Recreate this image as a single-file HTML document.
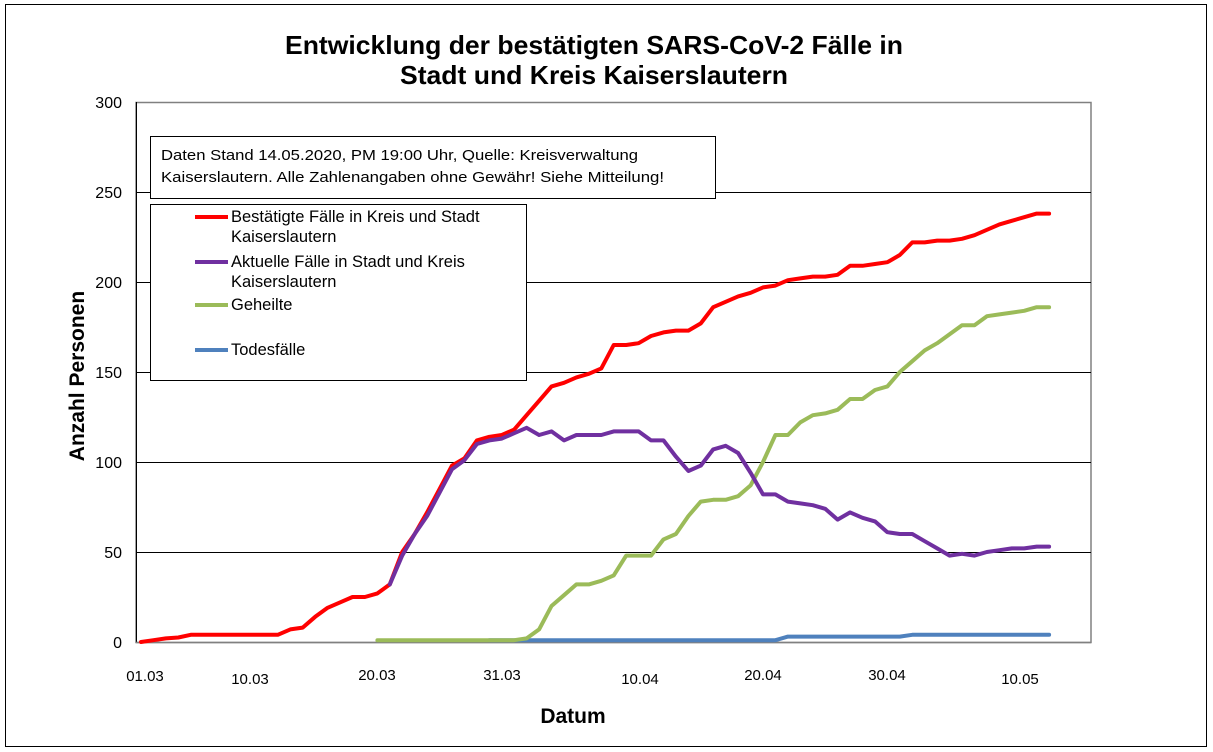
<!DOCTYPE html>
<html><head><meta charset="utf-8"><style>
body{margin:0;background:#fff;}
svg{display:block;font-family:"Liberation Sans",sans-serif;}
</style></head><body>
<svg id="s" width="1213" height="752" xmlns="http://www.w3.org/2000/svg">
<rect x="5.5" y="4.5" width="1201" height="742" fill="#fff" stroke="#000" stroke-width="1"/>
<text x="594" y="54" font-size="26" font-weight="bold" text-anchor="middle" textLength="618" lengthAdjust="spacingAndGlyphs">Entwicklung der bestätigten SARS-CoV-2 Fälle in</text>
<text x="594" y="84" font-size="26" font-weight="bold" text-anchor="middle" textLength="388" lengthAdjust="spacingAndGlyphs">Stadt und Kreis Kaiserslautern</text>
<rect x="136" y="102.5" width="955" height="540" fill="none" stroke="#808080" stroke-width="1.5"/>
<g stroke="#000" stroke-width="1">
<line x1="136" y1="192.5" x2="1091" y2="192.5"/>
<line x1="136" y1="282.5" x2="1091" y2="282.5"/>
<line x1="136" y1="372.5" x2="1091" y2="372.5"/>
<line x1="136" y1="462.5" x2="1091" y2="462.5"/>
<line x1="136" y1="552.5" x2="1091" y2="552.5"/>
<line x1="136.5" y1="102" x2="136.5" y2="642"/>
</g>
<line x1="136" y1="642.5" x2="1091" y2="642.5" stroke="#808080" stroke-width="1.5"/>
<g font-size="16" text-anchor="end">
<text x="122" y="108">300</text><text x="122" y="198">250</text><text x="122" y="288">200</text>
<text x="122" y="378">150</text><text x="122" y="468">100</text><text x="122" y="558">50</text><text x="122" y="648">0</text>
</g>
<g font-size="15" text-anchor="middle">
<text x="145" y="681">01.03</text><text x="250" y="684">10.03</text><text x="377" y="680">20.03</text>
<text x="502" y="680">31.03</text><text x="640" y="684">10.04</text><text x="763" y="680">20.04</text>
<text x="887" y="680">30.04</text><text x="1020" y="684">10.05</text>
</g>
<text x="573" y="723" font-size="21" font-weight="bold" text-anchor="middle">Datum</text>
<text transform="translate(84,376) rotate(-90)" font-size="21" font-weight="bold" text-anchor="middle">Anzahl Personen</text>
<g id="lines" fill="none" stroke-width="4" stroke-linejoin="round" stroke-linecap="round"></g>
<rect x="150.5" y="136.5" width="565" height="62" fill="#fff" stroke="#000" stroke-width="1"/>
<text x="161" y="160" font-size="15" textLength="477" lengthAdjust="spacingAndGlyphs">Daten Stand 14.05.2020, PM 19:00 Uhr, Quelle: Kreisverwaltung</text>
<text x="161" y="182" font-size="15" textLength="503" lengthAdjust="spacingAndGlyphs">Kaiserslautern. Alle Zahlenangaben ohne Gewähr! Siehe Mitteilung!</text>
<rect x="150.5" y="204.5" width="376" height="176" fill="#fff" stroke="#000" stroke-width="1"/>
<g stroke-width="4">
<line x1="195" y1="217" x2="228" y2="217" stroke="#ff0000"/>
<line x1="195" y1="262" x2="228" y2="262" stroke="#7030a0"/>
<line x1="195" y1="305" x2="228" y2="305" stroke="#9bbb59"/>
<line x1="195" y1="350" x2="228" y2="350" stroke="#4f81bd"/>
</g>
<g font-size="16.5">
<text x="231" y="222">Bestätigte Fälle in Kreis und Stadt</text>
<text x="231" y="242">Kaiserslautern</text>
<text x="231" y="267">Aktuelle Fälle in Stadt und Kreis</text>
<text x="231" y="287">Kaiserslautern</text>
<text x="231" y="310">Geheilte</text>
<text x="231" y="355">Todesfälle</text>
</g>
</svg>
<script>
var red=[0,1,2,2.5,4,4,4,4,4,4,4,4,7,8,14,19,22,25,25,27,32,50,60,72,85,98,102,112,114,115,118,126,134,142,144,147,149,152,165,165,166,170,172,173,173,177,186,189,192,194,197,198,201,202,203,203,204,209,209,210,211,215,222,222,223,223,224,226,229,232,234,236,238,238];
var pur={20:32,21:48,22:60,23:70,24:83,25:96,26:101,27:110,28:112,29:113,30:116,31:119,32:115,33:117,34:112,35:115,36:115,37:115,38:117,39:117,40:117,41:112,42:112,43:103,44:95,45:98,46:107,47:109,48:105,49:94,50:82,51:82,52:78,53:77,54:76,55:74,56:68,57:72,58:69,59:67,60:61,61:60,62:60,63:56,64:52,65:48,66:49,67:48,68:50,69:51,70:52,71:52,72:53,73:53};
var gr={};for(var d=19;d<=30;d++)gr[d]=1;
var g2=[2,7,20,26,32,32,34,37,48,48,48,57,60,70,78,79,79,81,87,100,115,115,122,126,127,129,135,135,140,142,150,156,162,166,171,176,176,178,179,181,182,183,184,186];
for(var i=0;i<43;i++)gr[31+i]=g2[i];
gr[73]=186;gr[72]=186;gr[71]=184;gr[70]=183;gr[69]=182;gr[68]=181;
var bl={};for(var d=28;d<=51;d++)bl[d]=1;bl[52]=3;for(var d=53;d<=61;d++)bl[d]=3;for(var d=62;d<=73;d++)bl[d]=4;
function X(d){return 141+d*12.44}function Y(v){return 642-v*1.8}
function path(o,c){var pts=[];for(var k in o)pts.push([+k,o[k]]);pts.sort(function(a,b){return a[0]-b[0]});
var s=pts.map(function(p,i){return(i?'L':'M')+X(p[0]).toFixed(1)+' '+Y(p[1]).toFixed(1)}).join('');
return '<path d="'+s+'" stroke="'+c+'"/>';}
var ro={};red.forEach(function(v,i){ro[i]=v});
document.getElementById('lines').innerHTML=path(bl,'#4f81bd')+path(gr,'#9bbb59')+path(ro,'#ff0000')+path(pur,'#7030a0');
</script>
</body></html>
